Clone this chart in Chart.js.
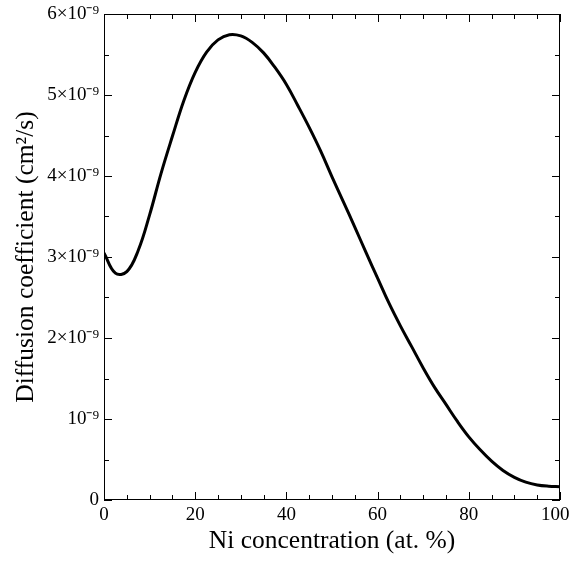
<!DOCTYPE html>
<html>
<head>
<meta charset="utf-8">
<script src="https://cdn.jsdelivr.net/npm/chart.js@4/dist/chart.umd.min.js"></script>
<style>
  html, body { margin: 0; padding: 0; background: #fff; }
  #wrap { width: 571px; height: 569px; }
</style>
</head>
<body>
<div id="wrap"><canvas id="chart" width="571" height="569"></canvas></div>
<script>
// Ni concentration (at. %)
var niConc = [0, 2.5, 5, 7.5, 10, 12.5, 15, 17.5, 20, 22.5, 25, 27.5, 30, 32.5, 35, 37.5, 40, 42.5, 45, 47.5,
    50, 52.5, 55, 57.5, 60, 62.5, 65, 67.5, 70, 72.5, 75, 77.5, 80, 82.5, 85, 87.5, 90, 92.5, 95, 97.5, 100]
// diffusion coefficient, in units of 1e-9 cm^2/s
var diffCoef = [3.05, 2.80, 2.82, 3.08, 3.52, 4.03, 4.49, 4.93, 5.28, 5.53, 5.68, 5.745, 5.73, 5.65, 5.52, 5.34, 5.13, 4.87, 4.60, 4.31,
    3.99, 3.68, 3.37, 3.05, 2.74, 2.43, 2.15, 1.89, 1.63, 1.39, 1.18, 0.97, 0.78, 0.62, 0.48, 0.365, 0.28, 0.22, 0.185, 0.17, 0.165]

var xTicks = [0, 20, 40, 60, 80, 100]
var xTickLabels = ['0', '20', '40', '60', '80', '100\u2002']
var yTicks = [0, 1, 2, 3, 4, 5, 6]
var yTickLabels = ['0', '10\u207B\u2079', '2\u00D710\u207B\u2079', '3\u00D710\u207B\u2079', '4\u00D710\u207B\u2079', '5\u00D710\u207B\u2079', '6\u00D710\u207B\u2079']

var FONT = '"Liberation Serif", "Times New Roman", serif'

var points = niConc.map(function(x, i) {
    return {x: x, y: diffCoef[i]}
})

// box with inward ticks on all four sides
var framePlugin = {
    id: 'frame',
    afterDraw: function(chart) {
        var ctx = chart.ctx
        var a = chart.chartArea
        var xs = chart.scales.x
        var ys = chart.scales.y
        ctx.save()
        ctx.strokeStyle = '#000'
        ctx.lineWidth = 1
        ctx.strokeRect(a.left + 0.5, a.top + 0.5, a.right - a.left - 1, a.bottom - a.top - 1)
        ctx.beginPath()
        for (var v = 0; v <= 100; v += 5) {
            var len = (v % 20 == 0) ? 8 : 5
            var px = Math.round(xs.getPixelForValue(v)) + 0.5
            ctx.moveTo(px, a.bottom); ctx.lineTo(px, a.bottom - len)
            ctx.moveTo(px, a.top); ctx.lineTo(px, a.top + len)
        }
        for (var w = 0; w <= 6; w += 0.5) {
            var len2 = (w % 1 == 0) ? 8 : 5
            var py = Math.round(ys.getPixelForValue(w)) + 0.5
            ctx.moveTo(a.left, py); ctx.lineTo(a.left + len2, py)
            ctx.moveTo(a.right, py); ctx.lineTo(a.right - len2, py)
        }
        ctx.stroke()
        ctx.restore()
    }
}

new Chart(document.getElementById('chart'), {
    type: 'line',
    data: {
        datasets: [{
            data: points,
            borderColor: '#000',
            borderWidth: 3,
            pointRadius: 0,
            fill: false,
            tension: 0.4
        }]
    },
    options: {
        responsive: false,
        animation: false,
        layout: { padding: { top: 14, right: 11, left: 0, bottom: 0 } },
        plugins: { legend: { display: false }, tooltip: { enabled: false } },
        scales: {
            x: {
                type: 'linear',
                min: 0,
                max: 100,
                afterFit: function(s) {
                    s.height = 69
                    s.paddingLeft = 0
                    s.paddingRight = 0
                },
                afterBuildTicks: function(s) {
                    s.ticks = xTicks.map(function(v) { return {value: v} })
                },
                grid: { display: false, drawTicks: false },
                border: { display: false },
                ticks: {
                    color: '#000',
                    font: { family: FONT, size: 19 },
                    padding: 4,
                    maxRotation: 0,
                    callback: function(v) { return xTickLabels[xTicks.indexOf(v)] }
                },
                title: {
                    display: true,
                    text: 'Ni concentration (at. %)',
                    color: '#000',
                    font: { family: FONT, size: 25.5 },
                    padding: { top: 0, bottom: 12 }
                }
            },
            y: {
                type: 'linear',
                min: 0,
                max: 6,
                afterFit: function(s) {
                    s.width = 104
                    s.paddingTop = 0
                    s.paddingBottom = 0
                },
                afterBuildTicks: function(s) {
                    s.ticks = yTicks.map(function(v) { return {value: v} })
                },
                grid: { display: false, drawTicks: false },
                border: { display: false },
                ticks: {
                    color: '#000',
                    font: { family: FONT, size: 19 },
                    padding: 5,
                    callback: function(v) { return yTickLabels[yTicks.indexOf(v)] }
                },
                title: {
                    display: true,
                    text: 'Diffusion coefficient (cm\u00B2/s)',
                    color: '#000',
                    font: { family: FONT, size: 25.5 },
                    padding: { top: 11, bottom: 0 }
                }
            }
        }
    },
    plugins: [framePlugin]
})
</script>
</body>
</html>
